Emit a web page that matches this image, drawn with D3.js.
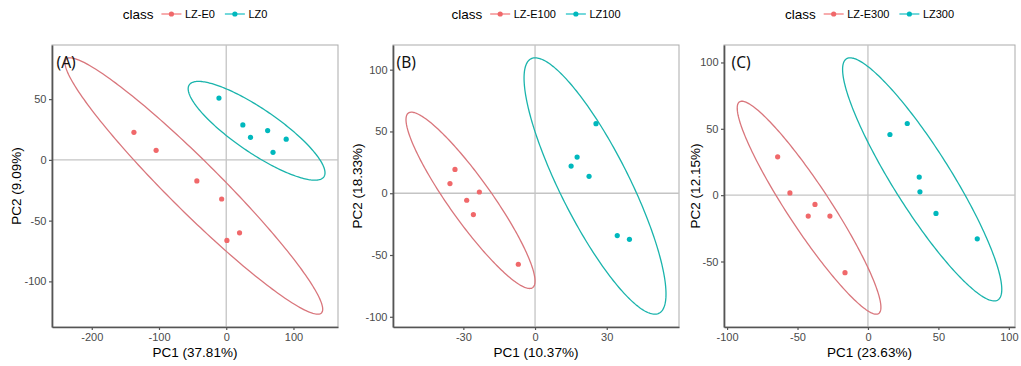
<!DOCTYPE html>
<html><head><meta charset="utf-8">
<script src="https://cdn.jsdelivr.net/npm/d3@7"></script>
<style>body{margin:0;background:#fff}svg{display:block}</style>
</head><body><svg id="chart" width="1021" height="366"></svg>
<script>
// ---------- Panel A ----------
const classesA = ["LZ-E0", "LZ0"];
const pc1A_E = [-137.3, -104.3, -43.7, -6.8, 1.0, 19.8];
const pc2A_E = [22.7, 7.9, -17.3, -32.2, -66.3, -60.0];
const pc1A_L = [-10.8, 24.7, 36.1, 61.6, 89.2, 69.6];
const pc2A_L = [50.9, 28.8, 18.6, 24.1, 17.0, 6.2];
// ellipse: [xmin, xmax, ymin, ymax, correlation]
const ellA_E = [-239.8, 143.5, -127.0, 84.0, -0.961];
const ellA_L = [-56.6, 146.9, -16.7, 64.6, -0.85];
const xTicksA = [-200, -100, 0, 100];
const xTickLabelsA = ["-200", "-100", "0", "100"];
const yTicksA = [-100, -50, 0, 50];
const yTickLabelsA = ["-100", "-50", "0", "50"];
const xTitleA = "PC1 (37.81%)", yTitleA = "PC2 (9.09%)", tagA = "(A)";

// ---------- Panel B ----------
const classesB = ["LZ-E100", "LZ100"];
const pc1B_E = [-33.5, -35.6, -23.3, -28.6, -25.8, -7.0];
const pc2B_E = [19.3, 7.8, 1.0, -5.7, -17.3, -57.5];
const pc1B_L = [25.5, 17.6, 15.1, 22.6, 34.4, 39.5];
const pc2B_L = [56.3, 29.3, 22.0, 13.7, -34.3, -37.3];
const ellB_E = [-54.0, 0.0, -77.1, 65.6, -0.916];
const ellB_L = [-4.6, 54.8, -97.9, 109.6, -0.842];
const xTicksB = [-30, 0, 30];
const xTickLabelsB = ["-30", "0", "30"];
const yTicksB = [-100, -50, 0, 50, 100];
const yTickLabelsB = ["-100", "-50", "0", "50", "100"];
const xTitleB = "PC1 (10.37%)", yTitleB = "PC2 (18.33%)", tagB = "(B)";

// ---------- Panel C ----------
const classesC = ["LZ-E300", "LZ300"];
const pc1C_E = [-64.1, -55.4, -37.6, -42.4, -27.0, -16.3];
const pc2C_E = [28.9, 1.7, -7.0, -15.8, -15.8, -58.4];
const pc1C_L = [15.6, 27.9, 36.4, 36.9, 48.3, 77.6];
const pc2C_L = [45.7, 54.0, 13.6, 2.5, -13.8, -32.9];
const ellC_E = [-92.8, 9.2, -89.7, 70.8, -0.935];
const ellC_L = [-18.0, 95.0, -79.7, 103.5, -0.905];
const xTicksC = [-100, -50, 0, 50, 100];
const xTickLabelsC = ["-100", "-50", "0", "50", "100"];
const yTicksC = [-50, 0, 50, 100];
const yTickLabelsC = ["-50", "0", "50", "100"];
const xTitleC = "PC1 (23.63%)", yTitleC = "PC2 (12.15%)", tagC = "(C)";

const classColors = ["#F0686A", "#00B8BD"];
const ellipseColors = ["#D9767C", "#1AB4AC"];

const panels = [
  {classes: classesA, series: [[pc1A_E, pc2A_E], [pc1A_L, pc2A_L]], ells: [ellA_E, ellA_L],
   xT: xTicksA, xL: xTickLabelsA, yT: yTicksA, yL: yTickLabelsA, xTitle: xTitleA, yTitle: yTitleA, tag: tagA,
   box: {l: 52, r: 338, t: 45, b: 327}, yTitleX: 16, tagX: 56.5},
  {classes: classesB, series: [[pc1B_E, pc2B_E], [pc1B_L, pc2B_L]], ells: [ellB_E, ellB_L],
   xT: xTicksB, xL: xTickLabelsB, yT: yTicksB, yL: yTickLabelsB, xTitle: xTitleB, yTitle: yTitleB, tag: tagB,
   box: {l: 393, r: 679, t: 45, b: 327}, yTitleX: 357, tagX: 396.5},
  {classes: classesC, series: [[pc1C_E, pc2C_E], [pc1C_L, pc2C_L]], ells: [ellC_E, ellC_L],
   xT: xTicksC, xL: xTickLabelsC, yT: yTicksC, yL: yTickLabelsC, xTitle: xTitleC, yTitle: yTitleC, tag: tagC,
   box: {l: 724, r: 1015, t: 45, b: 327}, yTitleX: 695, tagX: 731.5}
];

const svg = d3.select("#chart");
const FONT = "'Liberation Sans', Arial, Helvetica, sans-serif";

function ellipsePoints(e) {
  const [x0, x1, y0, y1, rho] = e;
  const cx = (x0 + x1) / 2, ax = (x1 - x0) / 2, cy = (y0 + y1) / 2, ay = (y1 - y0) / 2;
  const phi = Math.acos(rho);
  return d3.range(0, 241).map(i => {
    const t = i / 240 * 2 * Math.PI;
    return [cx + ax * Math.cos(t), cy + ay * Math.cos(t - phi)];
  });
}

panels.forEach(p => {
  const {l, r, t, b} = p.box;
  let xs = [], ys = [];
  p.ells.forEach(e => { xs.push(e[0], e[1]); ys.push(e[2], e[3]); });
  p.series.forEach(s => { xs.push(...s[0]); ys.push(...s[1]); });
  const [xlo, xhi] = d3.extent(xs), [ylo, yhi] = d3.extent(ys);
  const ex = (xhi - xlo) * 0.05, ey = (yhi - ylo) * 0.05;
  const x = d3.scaleLinear().domain([xlo - ex, xhi + ex]).range([l, r]);
  const y = d3.scaleLinear().domain([ylo - ey, yhi + ey]).range([b, t]);
  const g = svg.append("g");

  g.append("rect").attr("x", l).attr("y", t).attr("width", r - l).attr("height", b - t)
    .attr("fill", "none").attr("stroke", "#ababab").attr("stroke-width", 1);

  g.append("line").attr("x1", x(0)).attr("x2", x(0)).attr("y1", t).attr("y2", b)
    .attr("stroke", "#c4c4c4").attr("stroke-width", 1.3);
  g.append("line").attr("x1", l).attr("x2", r).attr("y1", y(0)).attr("y2", y(0))
    .attr("stroke", "#c4c4c4").attr("stroke-width", 1.3);

  const line = d3.line().x(d => x(d[0])).y(d => y(d[1]));
  p.ells.forEach((e, i) => {
    g.append("path").attr("d", line(ellipsePoints(e)) + "Z")
      .attr("fill", "none").attr("stroke", ellipseColors[i]).attr("stroke-width", 1.3);
  });

  p.series.forEach((s, i) => {
    g.selectAll(null).data(s[0].map((v, k) => [v, s[1][k]])).enter().append("circle")
      .attr("cx", d => x(d[0])).attr("cy", d => y(d[1])).attr("r", 2.6)
      .attr("fill", classColors[i]);
  });

  const xa = g.append("g").attr("transform", `translate(0,${b})`)
    .call(d3.axisBottom(x).tickValues(p.xT).tickFormat((d, i) => p.xL[i]).tickSize(3).tickSizeOuter(0).tickPadding(3));
  const ya = g.append("g").attr("transform", `translate(${l},0)`)
    .call(d3.axisLeft(y).tickValues(p.yT).tickFormat((d, i) => p.yL[i]).tickSize(3).tickSizeOuter(0).tickPadding(2.5));
  [xa, ya].forEach(a => {
    a.select(".domain").attr("stroke", "#555").attr("stroke-width", 1.7);
    a.selectAll(".tick line").attr("stroke", "#555").attr("stroke-width", 1.2);
    a.selectAll(".tick text").attr("fill", "#4a4a4a").style("font-family", FONT).style("font-size", "11px");
  });

  g.append("text").attr("x", (l + r) / 2).attr("y", 357).attr("text-anchor", "middle")
    .style("font-family", FONT).style("font-size", "13.5px").attr("fill", "#000").text(p.xTitle);
  g.append("text").attr("transform", `translate(${p.yTitleX},${(t + b) / 2}) rotate(-90)`)
    .attr("text-anchor", "middle").attr("dy", "0.35em")
    .style("font-family", FONT).style("font-size", "13.5px").attr("fill", "#000").text(p.yTitle);

  g.append("text").attr("x", p.tagX).attr("y", 67.5)
    .style("font-family", "'Noto Sans', 'Open Sans', sans-serif").style("font-size", "15.5px")
    .attr("fill", "#111").text(p.tag);

  const lg = g.append("g");
  let cur = 0;
  const ly = 14;
  const title = lg.append("text").attr("x", cur).attr("y", ly).attr("dy", "0.35em")
    .style("font-family", FONT).style("font-size", "13.5px").attr("fill", "#000").text("class");
  cur += title.node().getComputedTextLength() + 8;
  p.classes.forEach((c, i) => {
    lg.append("line").attr("x1", cur).attr("x2", cur + 20).attr("y1", ly).attr("y2", ly)
      .attr("stroke", classColors[i]).attr("stroke-width", 1.1);
    lg.append("circle").attr("cx", cur + 10).attr("cy", ly).attr("r", 2.6).attr("fill", classColors[i]);
    cur += 23.5;
    const tx = lg.append("text").attr("x", cur).attr("y", ly).attr("dy", "0.35em")
      .style("font-family", FONT).style("font-size", "11px").attr("fill", "#000").text(c);
    cur += tx.node().getComputedTextLength() + (i < p.classes.length - 1 ? 10 : 0);
  });
  lg.attr("transform", `translate(${(l + r) / 2 - cur / 2},0)`);
});
</script></body></html>
